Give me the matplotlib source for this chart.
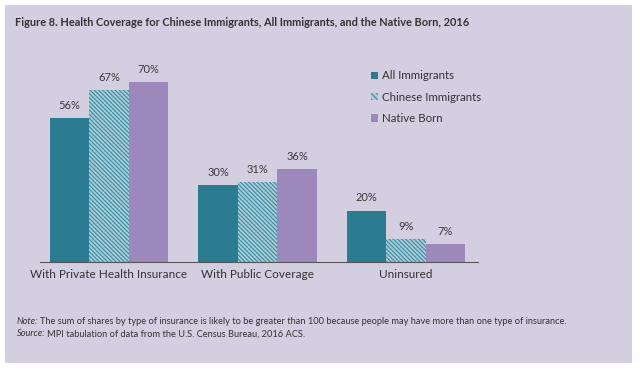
import matplotlib.pyplot as plt
import matplotlib.patches as mpatches
import numpy as np

categories = ['With Private Health Insurance', 'With Public Coverage', 'Uninsured']
series = ['All Immigrants', 'Chinese Immigrants', 'Native Born']
all_imm = [56, 30, 20]
chinese = [67, 31, 9]
native = [70, 36, 7]

plt.rcParams['font.family'] = ['Lato', 'DejaVu Sans']
plt.rcParams['hatch.linewidth'] = 0.8

W, H = 640, 371
fig = plt.figure(figsize=(W / 100, H / 100), dpi=100)
fig.patch.set_facecolor('white')

# panel background
fig.add_artist(mpatches.Rectangle((5 / W, 8 / H), 627 / W, 358 / H,
                                  transform=fig.transFigure,
                                  facecolor='#d3cfe0', edgecolor='none', zorder=0))

ax = fig.add_axes([40 / W, (H - 262) / H, 438 / W, 200 / H])
ax.set_facecolor('none')

x = np.arange(len(categories))
w = 0.266
teal = '#2b7c91'
purple = '#9c88bb'
hatch_face = '#a9cdd7'
hatch_col = '#3a8aa0'

b1 = ax.bar(x - w, all_imm, w, color=teal, zorder=2)
b2 = ax.bar(x, chinese, w, facecolor=hatch_face, edgecolor=hatch_col,
            hatch='\\' * 8, linewidth=0, zorder=2)
b3 = ax.bar(x + w, native, w, color=purple, zorder=2)

for bars, vals in [(b1, all_imm), (b2, chinese), (b3, native)]:
    for b, v in zip(bars, vals):
        ax.text(b.get_x() + b.get_width() / 2, v + 2.8, f'{v}%',
                ha='center', va='bottom', fontsize=8, color='#3a3a3a')

ax.set_xlim(-0.465, 2.485)
ax.set_ylim(0, 200 / 2.57)
for s in ['top', 'right', 'left']:
    ax.spines[s].set_visible(False)
ax.spines['bottom'].set_color('#555555')
ax.spines['bottom'].set_linewidth(0.8)
ax.set_yticks([])
ax.set_xticks(x)
ax.set_xticklabels(categories, fontsize=8.5, color='#333333')
ax.tick_params(axis='x', length=0, pad=5)

handles = [mpatches.Patch(facecolor=teal, edgecolor='none'),
           mpatches.Patch(facecolor=hatch_face, edgecolor=hatch_col, hatch='\\' * 6, linewidth=0),
           mpatches.Patch(facecolor=purple, edgecolor='none')]
fig.legend(handles, series, loc='upper left', bbox_to_anchor=(361 / W, 1 - 60 / H),
           frameon=False, fontsize=8.3, handlelength=0.6, handleheight=0.6,
           handletextpad=0.3, labelspacing=0.9, labelcolor='#333333')

fig.text(15 / W, 1 - 22 / H,
         'Figure 8. Health Coverage for Chinese Immigrants, All Immigrants, and the Native Born, 2016',
         fontsize=7.9, fontweight='bold', color='#333333', va='center')

# footnotes: italic lead-in followed by regular text
fig.canvas.draw()
renderer = fig.canvas.get_renderer()
for lead, rest, ypx in [('Note:', 'The sum of shares by type of insurance is likely to be greater than 100 because people may have more than one type of insurance.', 321),
                        ('Source:', 'MPI tabulation of data from the U.S. Census Bureau, 2016 ACS.', 334)]:
    t = fig.text(17 / W, 1 - ypx / H, lead, fontsize=6.7, color='#333333',
                 va='center', style='italic')
    bb = t.get_window_extent(renderer)
    fig.text((bb.x1 + 1.5) / W, 1 - ypx / H, rest, fontsize=6.7, color='#333333', va='center')

fig.savefig('out.png', dpi=100, facecolor='white')
